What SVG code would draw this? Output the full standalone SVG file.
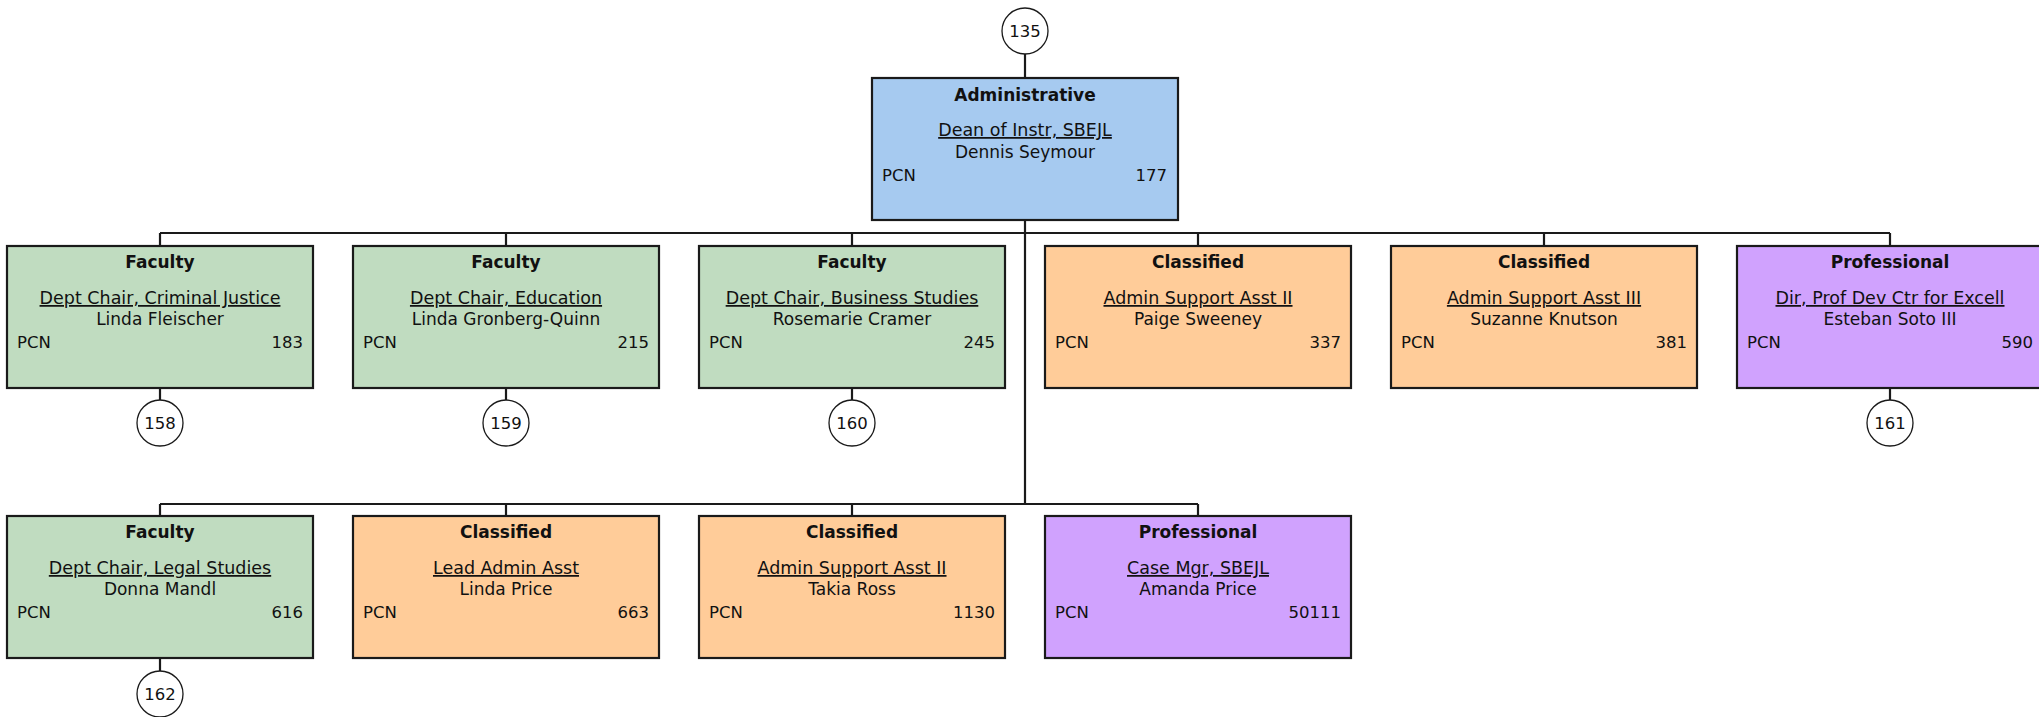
<svg xmlns="http://www.w3.org/2000/svg" width="2039" height="717" viewBox="0 0 2039 717">
<style>
.box{stroke:#1a1a1a;stroke-width:2.2}
.adm{fill:#a6caf0}
.fac{fill:#c0dcc0}
.cls{fill:#ffcc99}
.pro{fill:#d0a2fe}
.t{font-family:"DejaVu Sans",Verdana,sans-serif;fill:#111;font-size:16.5px}
.h{font-weight:bold;text-anchor:middle;font-size:17px}
.c{text-anchor:middle}
.n{font-size:17px}
.u{text-decoration:underline;font-size:17.5px}
.r{text-anchor:end}
.cir{fill:#fff;stroke:#1a1a1a;stroke-width:1.3}
.ln{stroke:#1a1a1a;stroke-width:2.2;fill:none}
</style>
<rect width="2039" height="717" fill="#fff"/>
<g id="connectors">
<line class="ln" x1="1025" y1="54" x2="1025" y2="78"/>
<line class="ln" x1="1025" y1="220" x2="1025" y2="504"/>
<line class="ln" x1="160" y1="233" x2="1890" y2="233"/>
<line class="ln" x1="160" y1="233" x2="160" y2="246"/>
<line class="ln" x1="506" y1="233" x2="506" y2="246"/>
<line class="ln" x1="852" y1="233" x2="852" y2="246"/>
<line class="ln" x1="1198" y1="233" x2="1198" y2="246"/>
<line class="ln" x1="1544" y1="233" x2="1544" y2="246"/>
<line class="ln" x1="1890" y1="233" x2="1890" y2="246"/>
<line class="ln" x1="160" y1="504" x2="1198" y2="504"/>
<line class="ln" x1="160" y1="504" x2="160" y2="516"/>
<line class="ln" x1="506" y1="504" x2="506" y2="516"/>
<line class="ln" x1="852" y1="504" x2="852" y2="516"/>
<line class="ln" x1="1198" y1="504" x2="1198" y2="516"/>
<line class="ln" x1="160" y1="388" x2="160" y2="400"/>
<line class="ln" x1="506" y1="388" x2="506" y2="400"/>
<line class="ln" x1="852" y1="388" x2="852" y2="400"/>
<line class="ln" x1="1890" y1="388" x2="1890" y2="400"/>
<line class="ln" x1="160" y1="658" x2="160" y2="671"/>
</g>
<g id="c135"><circle class="cir" cx="1025" cy="31" r="23"/><text class="t c" x="1025" y="37">135</text></g>
<g id="n177">
<rect class="box adm" x="872" y="78" width="306" height="142"/>
<text class="t h" x="1025" y="101">Administrative</text>
<text class="t c u" x="1025" y="136">Dean of Instr, SBEJL</text>
<text class="t c n" x="1025" y="158">Dennis Seymour</text>
<text class="t" x="882" y="181">PCN</text>
<text class="t r" x="1167" y="181">177</text>
</g>
<g id="n183">
<rect class="box fac" x="7" y="246" width="306" height="142"/>
<text class="t h" x="160" y="268">Faculty</text>
<text class="t c u" x="160" y="304">Dept Chair, Criminal Justice</text>
<text class="t c n" x="160" y="325">Linda Fleischer</text>
<text class="t" x="17" y="348">PCN</text>
<text class="t r" x="303" y="348">183</text>
</g>
<g id="n215">
<rect class="box fac" x="353" y="246" width="306" height="142"/>
<text class="t h" x="506" y="268">Faculty</text>
<text class="t c u" x="506" y="304">Dept Chair, Education</text>
<text class="t c n" x="506" y="325">Linda Gronberg-Quinn</text>
<text class="t" x="363" y="348">PCN</text>
<text class="t r" x="649" y="348">215</text>
</g>
<g id="n245">
<rect class="box fac" x="699" y="246" width="306" height="142"/>
<text class="t h" x="852" y="268">Faculty</text>
<text class="t c u" x="852" y="304">Dept Chair, Business Studies</text>
<text class="t c n" x="852" y="325">Rosemarie Cramer</text>
<text class="t" x="709" y="348">PCN</text>
<text class="t r" x="995" y="348">245</text>
</g>
<g id="n337">
<rect class="box cls" x="1045" y="246" width="306" height="142"/>
<text class="t h" x="1198" y="268">Classified</text>
<text class="t c u" x="1198" y="304">Admin Support Asst II</text>
<text class="t c n" x="1198" y="325">Paige Sweeney</text>
<text class="t" x="1055" y="348">PCN</text>
<text class="t r" x="1341" y="348">337</text>
</g>
<g id="n381">
<rect class="box cls" x="1391" y="246" width="306" height="142"/>
<text class="t h" x="1544" y="268">Classified</text>
<text class="t c u" x="1544" y="304">Admin Support Asst III</text>
<text class="t c n" x="1544" y="325">Suzanne Knutson</text>
<text class="t" x="1401" y="348">PCN</text>
<text class="t r" x="1687" y="348">381</text>
</g>
<g id="n590">
<rect class="box pro" x="1737" y="246" width="306" height="142"/>
<text class="t h" x="1890" y="268">Professional</text>
<text class="t c u" x="1890" y="304">Dir, Prof Dev Ctr for Excell</text>
<text class="t c n" x="1890" y="325">Esteban Soto III</text>
<text class="t" x="1747" y="348">PCN</text>
<text class="t r" x="2033" y="348">590</text>
</g>
<g id="n616">
<rect class="box fac" x="7" y="516" width="306" height="142"/>
<text class="t h" x="160" y="538">Faculty</text>
<text class="t c u" x="160" y="574">Dept Chair, Legal Studies</text>
<text class="t c n" x="160" y="595">Donna Mandl</text>
<text class="t" x="17" y="618">PCN</text>
<text class="t r" x="303" y="618">616</text>
</g>
<g id="n663">
<rect class="box cls" x="353" y="516" width="306" height="142"/>
<text class="t h" x="506" y="538">Classified</text>
<text class="t c u" x="506" y="574">Lead Admin Asst</text>
<text class="t c n" x="506" y="595">Linda Price</text>
<text class="t" x="363" y="618">PCN</text>
<text class="t r" x="649" y="618">663</text>
</g>
<g id="n1130">
<rect class="box cls" x="699" y="516" width="306" height="142"/>
<text class="t h" x="852" y="538">Classified</text>
<text class="t c u" x="852" y="574">Admin Support Asst II</text>
<text class="t c n" x="852" y="595">Takia Ross</text>
<text class="t" x="709" y="618">PCN</text>
<text class="t r" x="995" y="618">1130</text>
</g>
<g id="n50111">
<rect class="box pro" x="1045" y="516" width="306" height="142"/>
<text class="t h" x="1198" y="538">Professional</text>
<text class="t c u" x="1198" y="574">Case Mgr, SBEJL</text>
<text class="t c n" x="1198" y="595">Amanda Price</text>
<text class="t" x="1055" y="618">PCN</text>
<text class="t r" x="1341" y="618">50111</text>
</g>
<g id="c158"><circle class="cir" cx="160" cy="423" r="23"/><text class="t c" x="160" y="429">158</text></g>
<g id="c159"><circle class="cir" cx="506" cy="423" r="23"/><text class="t c" x="506" y="429">159</text></g>
<g id="c160"><circle class="cir" cx="852" cy="423" r="23"/><text class="t c" x="852" y="429">160</text></g>
<g id="c161"><circle class="cir" cx="1890" cy="423" r="23"/><text class="t c" x="1890" y="429">161</text></g>
<g id="c162"><circle class="cir" cx="160" cy="694" r="23"/><text class="t c" x="160" y="700">162</text></g>
</svg>
